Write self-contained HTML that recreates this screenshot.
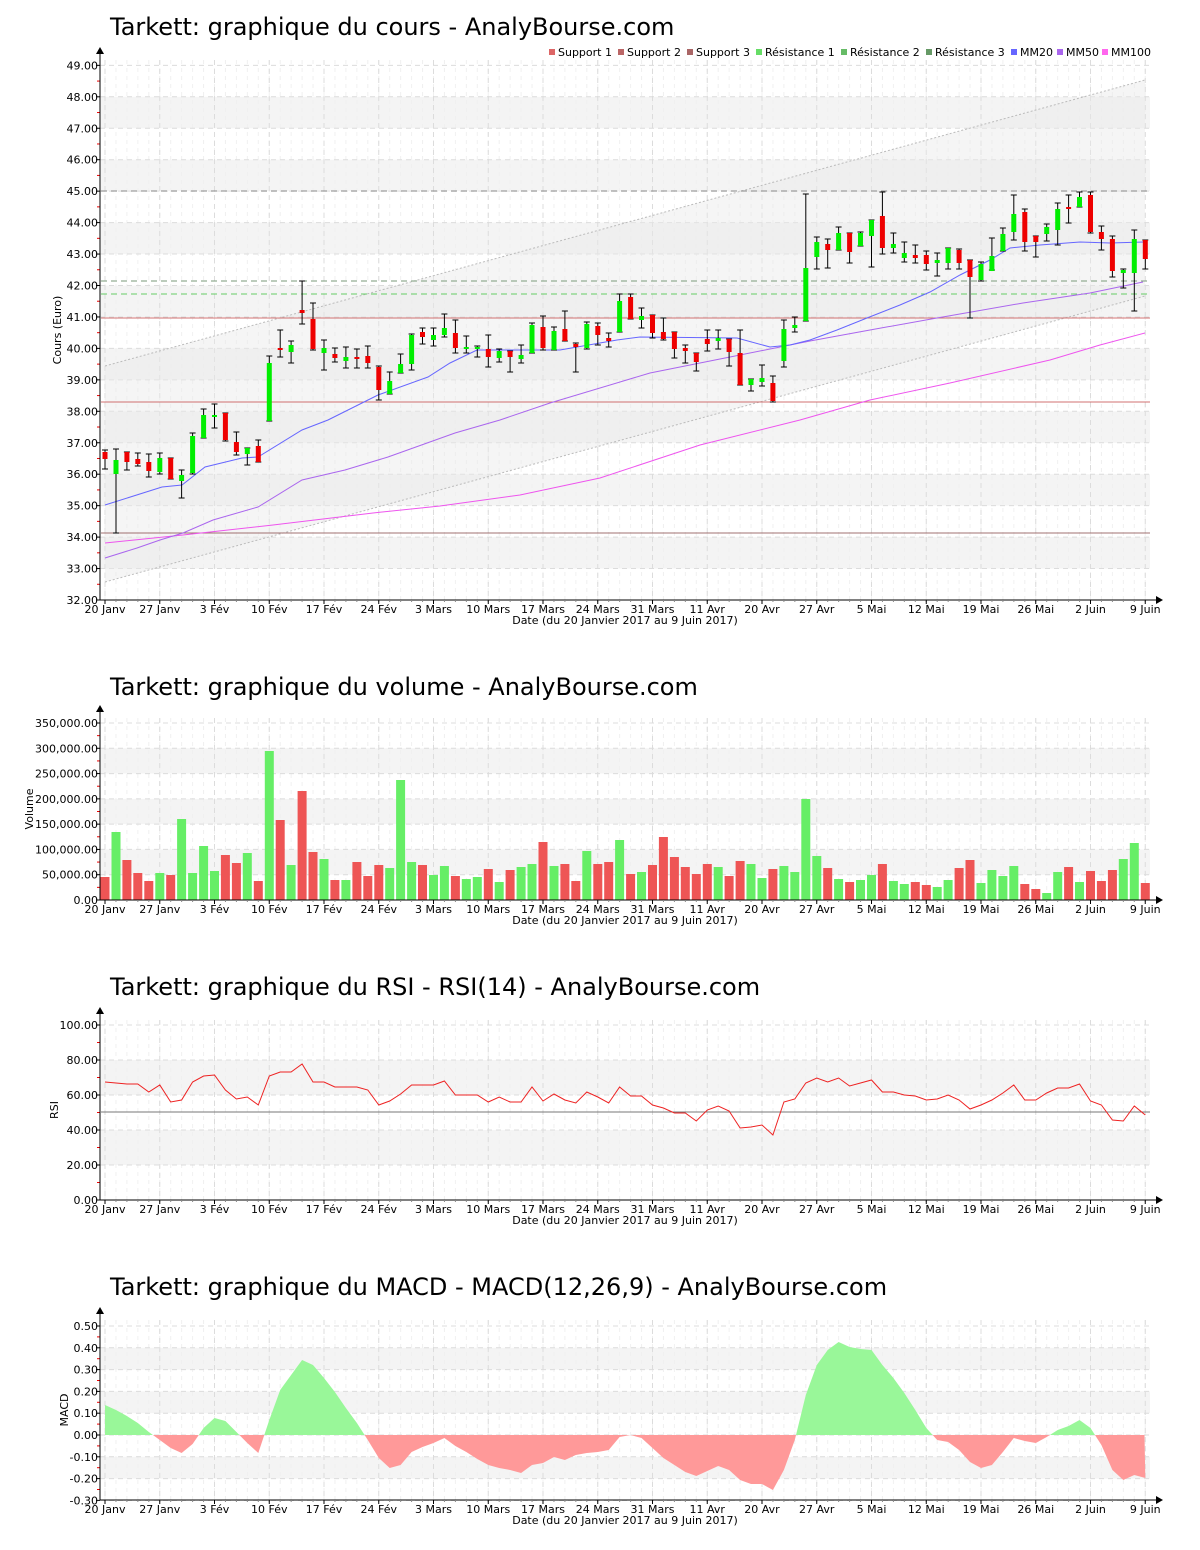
<!DOCTYPE html>
<html><head><meta charset="utf-8">
<style>
html,body{margin:0;padding:0;background:#fff;}
svg{display:block;font-family:"DejaVu Sans","Liberation Sans",sans-serif;}
</style></head>
<body>
<svg id="s" width="1200" height="1550" xmlns="http://www.w3.org/2000/svg"></svg>
<script>
const S=document.getElementById('s');let h='';
const X0=105,DX=10.95,XR=1150,AX=100;
const labels=["20 Janv","27 Janv","3 Fév","10 Fév","17 Fév","24 Fév","3 Mars","10 Mars","17 Mars","24 Mars","31 Mars","11 Avr","20 Avr","27 Avr","5 Mai","12 Mai","19 Mai","26 Mai","2 Juin","9 Juin"];
const LX=i=>105+i*54.75;
function panel(o){
 // o: top, bottom, title, titleY, ylab, ticks [{v,y,label}], bands [[y1,y2]], minor ys
 h+=`<text x="110" y="${o.titleY}" font-size="24" fill="#000">${o.title}</text>`;
 o.bands.forEach(b=>h+=`<rect x="${AX+1}" y="${b[0]}" width="${XR-AX-1}" height="${b[1]-b[0]}" fill="#f4f4f4"/>`);
 // minor vertical grid
 for(let d=0;d<96;d++){const x=X0+d*DX;h+=`<line x1="${x}" y1="${o.top}" x2="${x}" y2="${o.bottom}" stroke="#f0f0f0" stroke-dasharray="4,4"/>`;}
 for(let i=0;i<20;i++){const x=LX(i);h+=`<line x1="${x}" y1="${o.top}" x2="${x}" y2="${o.bottom}" stroke="#dcdcdc" stroke-dasharray="5,4"/>`;}
 o.ticks.forEach(t=>{h+=`<line x1="${AX}" y1="${t.y}" x2="${XR}" y2="${t.y}" stroke="#dcdcdc" stroke-dasharray="5,4"/>`;
  h+=`<line x1="${AX-4}" y1="${t.y}" x2="${AX}" y2="${t.y}" stroke="#000"/>`;
  h+=`<text x="${AX-2}" y="${t.y+4}" font-size="11" text-anchor="end">${t.label}</text>`;});
 (o.minor||[]).forEach(y=>h+=`<line x1="${AX-3}" y1="${y}" x2="${AX}" y2="${y}" stroke="#e00"/>`);
 h+=`<text transform="translate(${o.ylx},${(o.top+o.bottom)/2}) rotate(-90)" font-size="11" text-anchor="middle">${o.ylab}</text>`;
}
function axes(o){
 h+=`<line x1="${AX}" y1="${o.top-8}" x2="${AX}" y2="${o.bottom}" stroke="#000"/>`;
 h+=`<polygon points="${AX-4},${o.top-6} ${AX+4},${o.top-6} ${AX},${o.top-13}" fill="#000"/>`;
 h+=`<line x1="${AX}" y1="${o.bottom}" x2="${XR+8}" y2="${o.bottom}" stroke="#000"/>`;
 h+=`<polygon points="${XR+6},${o.bottom-4} ${XR+6},${o.bottom+4} ${XR+13},${o.bottom}" fill="#000"/>`;
 for(let d=0;d<96;d++){const x=X0+d*DX;h+=`<line x1="${x}" y1="${o.bottom}" x2="${x}" y2="${o.bottom+2}" stroke="#888"/>`;}
 labels.forEach((l,i)=>{const x=LX(i);h+=`<line x1="${x}" y1="${o.bottom}" x2="${x}" y2="${o.bottom+4}" stroke="#000"/>`;
  h+=`<text x="${x}" y="${o.bottom+13}" font-size="11" text-anchor="middle">${l}</text>`;});
 h+=`<text x="625" y="${o.bottom+24}" font-size="11" text-anchor="middle">Date (du 20 Janvier 2017 au 9 Juin 2017)</text>`;
}
// ---------- PRICE ----------
const py=v=>600-(v-32)*31.45;
let tk=[],bd=[],mn=[];
for(let v=32;v<=49;v++)tk.push({v,y:py(v),label:v.toFixed(2)});
for(let v=33;v<49;v+=2)bd.push([py(v+1),py(v)]);
for(let v=32.5;v<49;v++)mn.push(py(v));
panel({top:60,bottom:600,title:"Tarkett: graphique du cours - AnalyBourse.com",titleY:35,ylab:"Cours (Euro)",ticks:tk,bands:bd,minor:mn,ylx:61});
// channel
h+=`<polygon points="105,366 1145,80 1145,296 105,582" fill="#e8e8e8" opacity="0.45"/>`;
h+=`<line x1="105" y1="366" x2="1145" y2="80" stroke="#bbb" stroke-dasharray="2,2"/>`;
h+=`<line x1="105" y1="582" x2="1145" y2="296" stroke="#bbb" stroke-dasharray="2,2"/>`;
// horizontal S/R
h+=`<line x1="101" y1="191" x2="1150" y2="191" stroke="#888" stroke-dasharray="6,4"/>`;
h+=`<line x1="101" y1="281" x2="1150" y2="281" stroke="#7a9a7a" stroke-dasharray="6,4"/>`;
h+=`<line x1="101" y1="294" x2="1150" y2="294" stroke="#66cc66" stroke-dasharray="6,4"/>`;
h+=`<line x1="101" y1="318" x2="1150" y2="318" stroke="#d07070"/>`;
h+=`<line x1="101" y1="402" x2="1150" y2="402" stroke="#d07070"/>`;
h+=`<line x1="101" y1="533" x2="1150" y2="533" stroke="#a07070"/>`;
// MAs
const pl=(p,c)=>h+=`<polyline points="${p}" fill="none" stroke="${c}" stroke-width="1"/>`;
pl("105,543 183,535 273,525 373,513 440,506 520,495 600,478 700,445 800,420 870,400 950,383 1050,360 1100,345 1145,333","#ee55ee");
pl("105,558 137,548 160,540 183,533 213,520 258,507 302,480 345,470 388,457 455,433 500,420 550,403 650,373 730,357 810,341 870,330 937,318 1023,303 1090,293 1143,282","#aa66ee");
pl("105,505 162,487 182,485 205,467 242,458 258,457 302,430 328,420 378,395 428,377 450,363 477,350 560,350 617,340 640,337 737,338 770,347 790,345 810,340 837,330 867,318 900,305 930,292 960,275 990,260 1010,248 1040,245 1080,242 1110,243 1145,242","#6666ff");
// candles: c,hi,lo,bt,bb
const C=[["R",450,469,452,459],["G",449,533,460,474],["R",452,470,452,462],["R",453,466,459,464],["R",454,477,462,471],["G",453,474,458,472],["R",458,479,458,479],["G",470,498,475,481],["G",433,474,436,473],["G",409,438,415,438],["G",404,428,415,417],["R",413,441,413,440],["R",432,455,442,452],["G",448,465,448,454],["R",440,462,446,462],["G",356,421,363,421],["R",330,357,348,350],["G",341,363,345,352],["R",281,324,310,313],["R",303,350,319,349],["G",340,370,348,353],["R",348,362,354,358],["G",347,368,357,361],["R",349,368,357,359],["R",346,368,356,363],["R",366,400,367,390],["G",372,394,381,394],["G",354,373,364,373],["G",334,370,335,364],["R",328,344,332,337],["G",328,346,335,340],["G",314,337,328,335],["R",320,353,333,348],["G",336,353,347,349],["G",346,357,347,349],["R",335,367,349,357],["G",349,362,351,358],["R",351,372,351,357],["G",345,363,355,359],["G",323,353,325,353],["R",316,350,327,348],["G",327,350,331,350],["R",311,341,329,341],["R",343,372,344,347],["G",322,349,324,348],["R",323,345,326,335],["R",333,347,338,341],["G",294,332,301,332],["R",294,319,297,319],["G",308,328,316,320],["R",315,338,315,333],["R",318,340,332,339],["R",332,358,332,349],["R",345,363,348,351],["R",353,371,353,362],["R",330,351,339,344],["G",330,349,338,341],["R",339,366,339,352],["R",330,385,353,385],["G",379,391,379,385],["G",365,386,378,382],["R",376,402,383,401],["G",320,367,329,361],["G",317,332,325,328],["G",194,321,268,321],["G",237,269,242,257],["R",239,268,244,250],["G",227,250,233,250],["R",233,263,233,252],["G",232,246,233,246],["G",220,267,220,236],["R",192,254,216,248],["G",233,253,244,248],["G",242,262,253,258],["R",245,263,255,258],["R",251,270,255,264],["G",253,276,260,263],["G",248,269,248,263],["R",249,269,250,263],["R",260,318,260,277],["G",262,281,264,280],["G",238,270,256,271],["G",228,251,234,251],["G",195,240,214,232],["R",209,251,212,242],["R",236,257,236,242],["G",224,241,227,234],["G",203,245,209,230],["R",195,223,207,209],["G",192,207,197,207],["R",192,233,195,232],["R",226,250,232,239],["R",236,277,239,271],["G",269,288,270,273],["G",230,311,239,273],["R",240,269,240,259]];
C.forEach((c,i)=>{const x=(X0+i*DX).toFixed(1);const col=c[0]=="G"?"#00ee00":"#ee0000";
 h+=`<line x1="${x}" y1="${c[1]}" x2="${x}" y2="${c[2]}" stroke="#000"/>`;
 h+=`<line x1="${x-3}" y1="${c[1]}" x2="${+x+3}" y2="${c[1]}" stroke="#000"/><line x1="${x-3}" y1="${c[2]}" x2="${+x+3}" y2="${c[2]}" stroke="#000"/>`;
 h+=`<rect x="${x-2.5}" y="${c[3]}" width="5" height="${Math.max(2,c[4]-c[3])}" fill="${col}"/>`;});
axes({top:60,bottom:600});
// legend
const lg=[["Support 1","#dd6666",549],["Support 2","#bb6666",618],["Support 3","#aa6666",687],["Résistance 1","#66dd66",756],["Résistance 2","#66bb66",841],["Résistance 3","#669966",926],["MM20","#6666ff",1011],["MM50","#aa66ee",1057],["MM100","#ff66ee",1102]];
lg.forEach(l=>{h+=`<rect x="${l[2]}" y="49" width="6" height="6" fill="${l[1]}"/><text x="${l[2]+9}" y="56" font-size="11">${l[0]}</text>`;});
// ---------- VOLUME ----------
const vy=v=>900-v*0.5057;
tk=[];bd=[];mn=[];
for(let v=0;v<=350;v+=50)tk.push({y:vy(v),label:(v==0?"0.00":v+",000.00")});
[[50,100],[150,200],[250,300]].forEach(b=>bd.push([vy(b[1]),vy(b[0])]));
for(let v=25;v<350;v+=50)mn.push(vy(v));
panel({top:718,bottom:900,title:"Tarkett: graphique du volume - AnalyBourse.com",titleY:695,ylab:"Volume",ticks:tk,bands:bd,minor:mn,ylx:33});
const V=[877,832,860,873,881,873,875,819,873,846,871,855,863,853,881,751,820,865,791,852,859,880,880,862,876,865,868,780,862,865,875,866,876,879,877,869,882,870,867,864,842,866,864,881,851,864,862,840,874,872,865,837,857,867,874,864,867,876,861,864,878,869,866,872,799,856,868,879,882,880,875,864,881,884,882,885,887,880,868,860,883,870,876,866,884,889,893,872,867,882,871,881,870,859,843,883];
V.forEach((t,i)=>{const x=X0+i*DX;h+=`<rect x="${(x-4.5).toFixed(1)}" y="${t}" width="9" height="${900-t}" fill="${C[i][0]=="G"?"#66ee66":"#ee5555"}"/>`;});
axes({top:718,bottom:900});
// ---------- RSI ----------
const ry=v=>1200-v*1.75;
tk=[];bd=[];mn=[];
for(let v=0;v<=100;v+=20)tk.push({y:ry(v),label:v.toFixed(2)});
[[20,40],[60,80]].forEach(b=>bd.push([ry(b[1]),ry(b[0])]));
for(let v=10;v<100;v+=20)mn.push(ry(v));
panel({top:1020,bottom:1200,title:"Tarkett: graphique du RSI - RSI(14) - AnalyBourse.com",titleY:995,ylab:"RSI",ticks:tk,bands:bd,minor:mn,ylx:58});
h+=`<line x1="101" y1="1112" x2="1150" y2="1112" stroke="#777"/>`;
const R=[1082,1083,1084,1084,1092,1085,1102,1100,1082,1076,1075,1090,1099,1097,1105,1076,1072,1072,1064,1082,1082,1087,1087,1087,1090,1105,1101,1094,1085,1085,1085,1081,1095,1095,1095,1102,1097,1102,1102,1087,1101,1094,1100,1103,1092,1097,1103,1087,1096,1096,1105,1108,1113,1113,1121,1110,1106,1111,1128,1127,1125,1135,1102,1099,1083,1078,1082,1078,1086,1083,1080,1092,1092,1095,1096,1100,1099,1095,1100,1109,1105,1100,1093,1085,1100,1100,1093,1088,1088,1084,1101,1105,1120,1121,1106,1115];
pl(R.map((y,i)=>(X0+i*DX).toFixed(1)+","+y).join(" "),"#ee2222");
axes({top:1020,bottom:1200});
// ---------- MACD ----------
const my=v=>1435-v*218;
tk=[];bd=[];mn=[];
for(let v=-3;v<=5;v++)tk.push({y:my(v/10),label:(v/10).toFixed(2)});
[[0.1,0.2],[0.3,0.4],[-0.2,-0.1]].forEach(b=>bd.push([my(b[1]),my(b[0])]));
for(let v=-2.5;v<5;v++)mn.push(my(v/10));
panel({top:1320,bottom:1500,title:"Tarkett: graphique du MACD - MACD(12,26,9) - AnalyBourse.com",titleY:1295,ylab:"MACD",ticks:tk,bands:bd,minor:mn,ylx:68});
const M=[1405,1410,1416,1423,1432,1440,1448,1453,1444,1428,1418,1421,1432,1443,1453,1420,1390,1375,1360,1365,1378,1392,1408,1423,1440,1458,1468,1465,1452,1447,1443,1438,1446,1452,1459,1465,1468,1470,1473,1465,1463,1457,1460,1455,1453,1452,1450,1437,1435,1438,1448,1458,1465,1472,1476,1471,1466,1470,1480,1484,1484,1490,1470,1440,1395,1365,1350,1342,1347,1349,1350,1365,1378,1393,1410,1428,1440,1442,1450,1462,1468,1465,1452,1438,1441,1443,1437,1430,1426,1420,1428,1445,1470,1480,1475,1478];
const mp="105,1435 "+M.map((y,i)=>(X0+i*DX).toFixed(1)+","+y).join(" ")+" 1144.5,1435";
h+=`<defs><clipPath id="up"><rect x="100" y="1300" width="1060" height="135"/></clipPath><clipPath id="dn"><rect x="100" y="1435" width="1060" height="70"/></clipPath></defs>`;
h+=`<polygon points="${mp}" fill="#99f799" clip-path="url(#up)"/>`;
h+=`<polygon points="${mp}" fill="#ff9999" clip-path="url(#dn)"/>`;
axes({top:1320,bottom:1500});
S.innerHTML=h;
</script>
</body></html>
